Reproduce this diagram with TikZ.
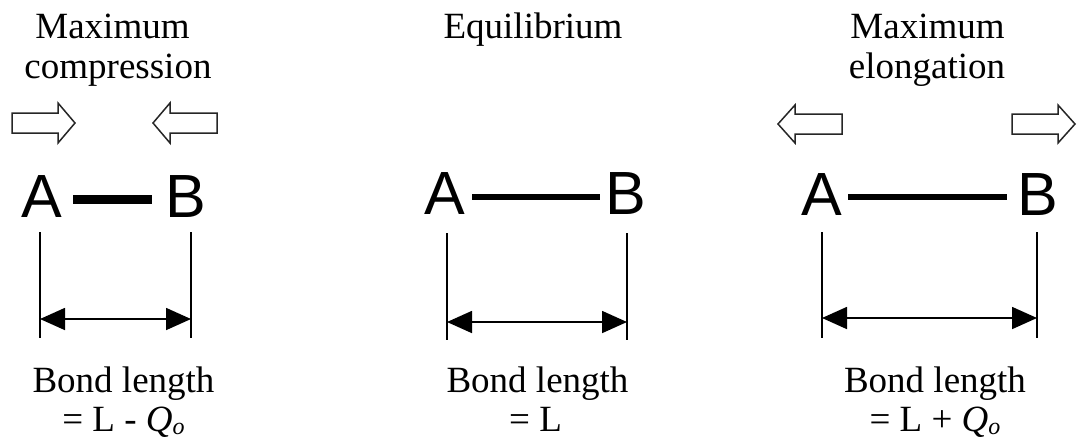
\documentclass[tikz,border=0pt]{standalone}
\usepackage{fontspec}
\setmainfont{Liberation Serif}
\newfontfamily\absans{Liberation Sans}
\usetikzlibrary{arrows.meta}
\newcommand\subo{\raisebox{-3pt}{\fontsize{24}{24}\selectfont\itshape o}}
\begin{document}
\begin{tikzpicture}[x=1pt,y=-1pt,
  lbl/.style={font=\fontsize{37}{40}\selectfont, inner sep=0pt, anchor=base},
  atom/.style={font=\absans\fontsize{61}{70}\selectfont, inner sep=0pt, anchor=base west},
  bond/.style={line width=#1},
  blk/.style={draw=black!85, line width=1.5pt, fill=white, line join=miter},
  dimv/.style={line width=1.5pt},
  dim/.style={line width=1.7pt, {Triangle[length=25pt,width=22pt]}-{Triangle[length=25pt,width=22pt]}}]
\useasboundingbox (0,0) rectangle (1078,440);

% ---------- Panel 1: maximum compression ----------
\node[lbl] (t1a) at (112.5,38) {Maximum};
\node[lbl] (t1b) at (118,78) {compression};
\draw[blk] (12,113) -- (58,113) -- (58,103) -- (75,123) -- (58,143) -- (58,133) -- (12,133) -- cycle;
\draw[blk] (217,113) -- (170,113) -- (170,103) -- (153,123) -- (170,143) -- (170,133) -- (217,133) -- cycle;
\node[atom] (A1) at (21.5,217) {A};
\node[atom] (B1) at (165.5,217) {B};
\coordinate (b1s) at (73,199);
\coordinate (b1e) at (152,199);
\draw[bond=9pt] (b1s) -- (b1e);
\coordinate (v1lt) at (40,232); \coordinate (v1lb) at (40,338);
\coordinate (v1rt) at (191,232); \coordinate (v1rb) at (191,338);
\draw[dimv] (v1lt) -- (v1lb);
\draw[dimv] (v1rt) -- (v1rb);
\coordinate (d1l) at (40,319); \coordinate (d1r) at (191,319);
\draw[dim] (d1l) -- (d1r);
\node[lbl] (c1a) at (123.5,392) {Bond length};
\node[lbl] (c1b) at (123.5,431) {= L - \textit{Q}\subo};

% ---------- Panel 2: equilibrium ----------
\node[lbl] (t2a) at (533,38) {Equilibrium};
\node[atom] (A2) at (424.5,214) {A};
\node[atom] (B2) at (605.5,214) {B};
\coordinate (b2s) at (472,197);
\coordinate (b2e) at (600,197);
\draw[bond=6pt] (b2s) -- (b2e);
\coordinate (v2lt) at (447,233); \coordinate (v2lb) at (447,340);
\coordinate (v2rt) at (627,233); \coordinate (v2rb) at (627,340);
\draw[dimv] (v2lt) -- (v2lb);
\draw[dimv] (v2rt) -- (v2rb);
\coordinate (d2l) at (447,322); \coordinate (d2r) at (627,322);
\draw[dim] (d2l) -- (d2r);
\node[lbl] (c2a) at (537.5,392) {Bond length};
\node[lbl] (c2b) at (535.5,431) {= L};

% ---------- Panel 3: maximum elongation ----------
\node[lbl] (t3a) at (927.5,38) {Maximum};
\node[lbl] (t3b) at (927,78) {elongation};
\draw[blk] (842,114) -- (795,114) -- (795,105) -- (778,124) -- (795,143) -- (795,134) -- (842,134) -- cycle;
\draw[blk] (1012,114) -- (1058,114) -- (1058,105) -- (1075,124) -- (1058,143) -- (1058,134) -- (1012,134) -- cycle;
\node[atom] (A3) at (801.5,215) {A};
\node[atom] (B3) at (1017.5,215) {B};
\coordinate (b3s) at (848,197);
\coordinate (b3e) at (1007,197);
\draw[bond=6pt] (b3s) -- (b3e);
\coordinate (v3lt) at (822,232); \coordinate (v3lb) at (822,338);
\coordinate (v3rt) at (1037,232); \coordinate (v3rb) at (1037,338);
\draw[dimv] (v3lt) -- (v3lb);
\draw[dimv] (v3rt) -- (v3rb);
\coordinate (d3l) at (822,318); \coordinate (d3r) at (1037,318);
\draw[dim] (d3l) -- (d3r);
\node[lbl] (c3a) at (935,392) {Bond length};
\node[lbl] (c3b) at (935,431) {= L + \textit{Q}\subo};
\end{tikzpicture}
\end{document}
